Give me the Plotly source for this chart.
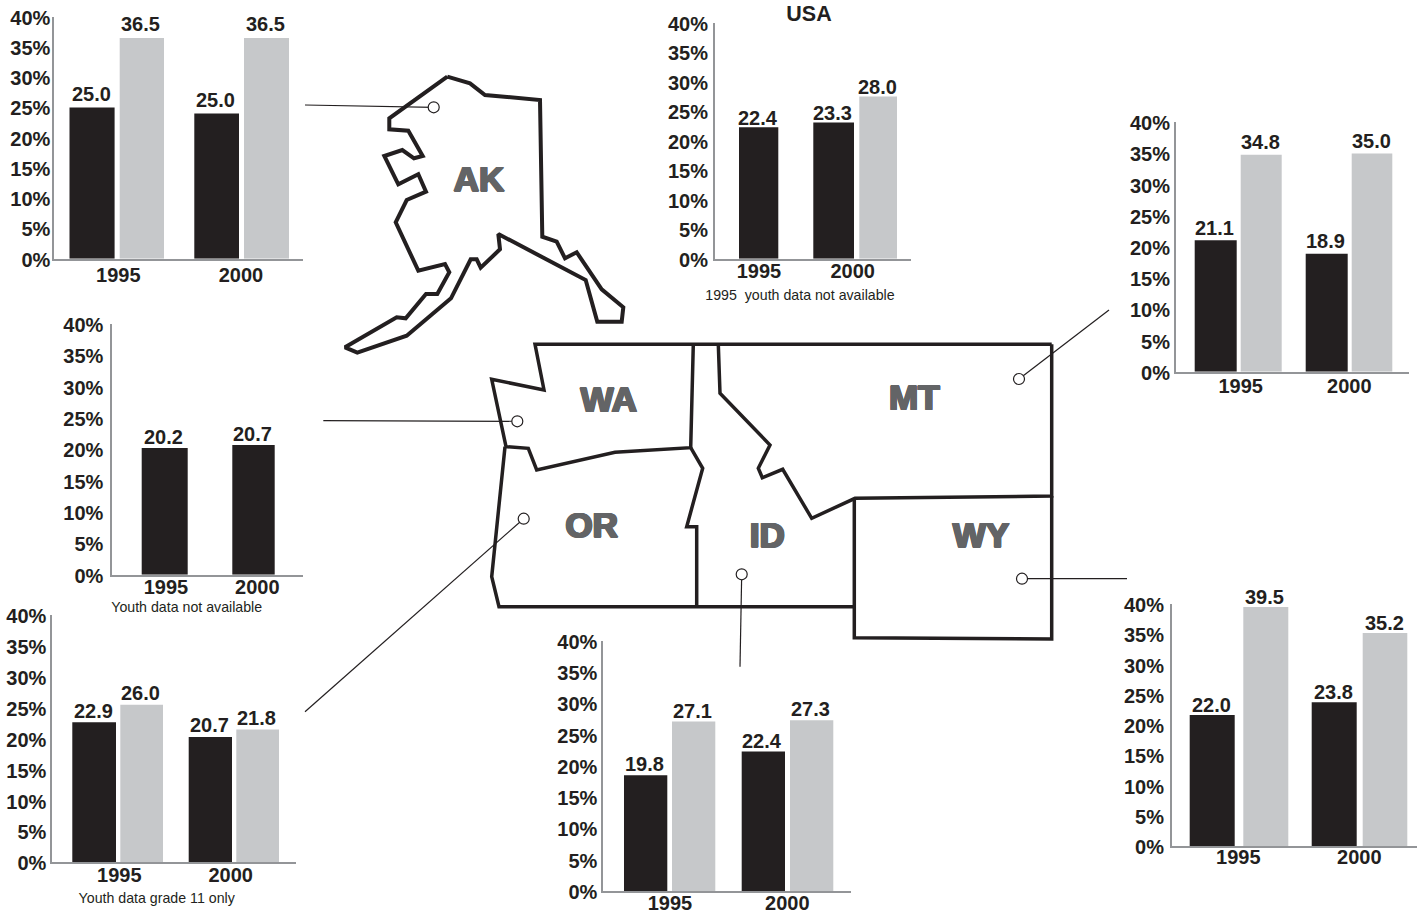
import plotly.graph_objects as go

W, H = 1421, 911
INK = "#231f20"
GRAY = "#c6c8ca"
AXIS = "#939598"
STATE = "#636466"
FONT = "Liberation Sans"

YEARS = ["1995", "2000"]
PCT_VALUES = [0, 5, 10, 15, 20, 25, 30, 35, 40]
PCT_LABELS = ["0%", "5%", "10%", "15%", "20%", "25%", "30%", "35%", "40%"]

AK_ADULT = [25.0, 24.0]
AK_YOUTH = [36.5, 36.5]
AK_ADULT_TEXT = ["25.0", "25.0"]
AK_YOUTH_TEXT = ["36.5", "36.5"]

USA_ADULT = [22.3, 23.1]
USA_YOUTH = [None, 27.5]
USA_ADULT_TEXT = ["22.4", "23.3"]
USA_YOUTH_TEXT = [None, "28.0"]

MT_ADULT = [21.1, 18.9]
MT_YOUTH = [34.8, 35.0]
MT_ADULT_TEXT = ["21.1", "18.9"]
MT_YOUTH_TEXT = ["34.8", "35.0"]

WA_ADULT = [20.2, 20.7]
WA_ADULT_TEXT = ["20.2", "20.7"]

OR_ADULT = [22.7, 20.3]
OR_YOUTH = [25.5, 21.5]
OR_ADULT_TEXT = ["22.9", "20.7"]
OR_YOUTH_TEXT = ["26.0", "21.8"]

ID_ADULT = [18.5, 22.3]
ID_YOUTH = [27.1, 27.3]
ID_ADULT_TEXT = ["19.8", "22.4"]
ID_YOUTH_TEXT = ["27.1", "27.3"]

WY_ADULT = [21.65, 23.75]
WY_YOUTH = [39.5, 35.2]
WY_ADULT_TEXT = ["22.0", "23.8"]
WY_YOUTH_TEXT = ["39.5", "35.2"]

# map outlines (in page pixels)
ALASKA_X = [447.3, 470, 485, 540, 542.3, 556.7, 565, 576.7, 601.7, 623.3, 621.7, 597.3, 585.7, 498.3, 500, 480.7,
            476.7, 470.7, 451, 406.7, 357.3, 345, 396.7, 405.7, 426, 437.3, 449.3, 445, 418.3, 395.7, 406.7, 426,
            418.3, 398.3, 384.3, 402.3, 414, 422.7, 408.3, 389.3, 389.3, 447.3]
ALASKA_Y = [76.7, 83.3, 95, 100, 236.7, 241.7, 258.3, 252.3, 289.3, 307.3, 321.7, 321.7, 280, 234, 249.3, 267.7,
            259.3, 259.3, 298.3, 335.7, 352.7, 347.3, 317.3, 318.3, 294, 294, 272.3, 264, 270.7, 222.3, 200, 191.7,
            174.3, 184.3, 156, 150, 158.3, 156, 130.7, 129.3, 118.3, 76.7]
WA_BORDER_X = [1051.7, 535, 544, 491.7, 506, 528.3, 536.7, 615, 690.7, 693.3]
WA_BORDER_Y = [344.3, 344.3, 390, 379.3, 446.7, 448.3, 470, 452.3, 447.7, 344.3]
OR_BORDER_X = [505, 491.7, 499, 855]
OR_BORDER_Y = [446.7, 576.7, 606.7, 606.7]
OR_ID_BORDER_X = [690.7, 702.7, 686.7, 696.7, 696.7]
OR_ID_BORDER_Y = [447.7, 468.3, 526.7, 526.7, 606.7]
MT_BORDER_X = [718.3, 720, 770, 758.3, 762.3, 782.7, 811.7, 855, 1051.7, 1051.7]
MT_BORDER_Y = [344.3, 393.3, 445, 468.3, 477.7, 469.3, 518.3, 498.3, 496, 344.3]
WY_BORDER_X = [1051.7, 1051.7, 854.3, 854.3]
WY_BORDER_Y = [496, 639, 637.7, 498.3]
OUTLINES = [(ALASKA_X, ALASKA_Y, 4), (WA_BORDER_X, WA_BORDER_Y, 3.5), (OR_BORDER_X, OR_BORDER_Y, 3.5),
            (OR_ID_BORDER_X, OR_ID_BORDER_Y, 3.5), (MT_BORDER_X, MT_BORDER_Y, 3.5), (WY_BORDER_X, WY_BORDER_Y, 3.5)]

STATE_NAMES = ["AK", "WA", "OR", "ID", "MT", "WY"]
STATE_X = [479, 608.7, 591.7, 767.3, 914.3, 981]
STATE_Y = [182.7, 403, 528.7, 538.7, 401, 538.7]

# leader lines: (far end, circle)
LEADERS = [((305, 105), (433.7, 107.3)), ((323.3, 420.7), (517.3, 421.3)), ((305, 711.7), (523.7, 518.7)),
           ((740, 666.7), (741.7, 574.3)), ((1109, 310), (1019, 379)), ((1127, 578.7), (1022, 578.7))]

# panel layout, in page pixels. ticks = centres of the year labels; offsets/widths are relative to them.
PANELS = [
    dict(left=54.3, right=303.3, top=16.7, bottom=258.7, ticks=(118.3, 241), y_gap=-2, x_gap=-3, dy=13.5,
         adult=AK_ADULT, adult_text=AK_ADULT_TEXT, youth=AK_YOUTH, youth_text=AK_YOUTH_TEXT,
         a_off=[-48.8, -46.7], a_w=[45.1, 44.7], y_off=[1.4, 3], y_w=[44.3, 45]),
    dict(left=715, right=910.7, top=22.7, bottom=258.7, ticks=(759, 852.7), y_gap=1, x_gap=-7, dy=9.5,
         adult=USA_ADULT, adult_text=USA_ADULT_TEXT, youth=USA_YOUTH, youth_text=USA_YOUTH_TEXT,
         a_off=[-20, -39.4], a_w=[39.3, 40.7], y_off=[6.6, 6.6], y_w=[37.7, 37.7]),
    dict(left=1176, right=1409.3, top=122.3, bottom=371.7, ticks=(1240.7, 1349.3), y_gap=0, x_gap=-5, dy=12.5,
         adult=MT_ADULT, adult_text=MT_ADULT_TEXT, youth=MT_YOUTH, youth_text=MT_YOUTH_TEXT,
         a_off=[-46, -43.6], a_w=[42, 42], y_off=[0, 2.4], y_w=[41, 40.6]),
    dict(left=112.3, right=302.7, top=324, bottom=574.7, ticks=(166, 257.3), y_gap=3, x_gap=-7, dy=11,
         adult=WA_ADULT, adult_text=WA_ADULT_TEXT, youth=None, youth_text=None,
         a_off=[-24.3, -25], a_w=[46, 42.4], y_off=None, y_w=None),
    dict(left=52.3, right=295.7, top=615.3, bottom=862.3, ticks=(119.3, 230.7), y_gap=0, x_gap=-6, dy=11.5,
         adult=OR_ADULT, adult_text=OR_ADULT_TEXT, youth=OR_YOUTH, youth_text=OR_YOUTH_TEXT,
         a_off=[-47, -42], a_w=[43.7, 43.3], y_off=[1, 5.6], y_w=[42.7, 42.7]),
    dict(left=603.3, right=850.7, top=640.7, bottom=891, ticks=(670, 787.3), y_gap=0, x_gap=-7, dy=10.8,
         adult=ID_ADULT, adult_text=ID_ADULT_TEXT, youth=ID_YOUTH, youth_text=ID_YOUTH_TEXT,
         a_off=[-46, -45.6], a_w=[43.3, 43.3], y_off=[2, 2.7], y_w=[43.3, 43.3]),
    dict(left=1172, right=1417, top=604, bottom=846, ticks=(1238.3, 1359.3), y_gap=2, x_gap=-8, dy=10.5,
         adult=WY_ADULT, adult_text=WY_ADULT_TEXT, youth=WY_YOUTH, youth_text=WY_YOUTH_TEXT,
         a_off=[-48.6, -47.6], a_w=[45, 45], y_off=[5, 3.4], y_w=[45, 44.6]),
]

NOTES = [("1995\u00a0\u00a0youth data not available", 800, 296),
         ("Youth data not available", 186.7, 608),
         ("Youth data grade 11 only", 156.7, 899.6)]

fig = go.Figure()
layout = {}
annotations = []
text_font = dict(family=FONT, size=20, color=INK, weight="bold")

for i, p in enumerate(PANELS, start=1):
    sfx = "" if i == 1 else str(i)
    c1, c2 = p["ticks"]
    unit = c2 - c1
    layout["xaxis" + sfx] = dict(
        domain=[p["left"] / W, p["right"] / W], anchor="y" + sfx, type="category",
        categoryorder="array", categoryarray=YEARS, automargin=False,
        range=[(p["left"] - c1) / unit, 1 + (p["right"] - c2) / unit],
        showgrid=False, zeroline=False, showline=True, linecolor=AXIS, linewidth=2,
        ticks="", tickfont=text_font, ticklabelstandoff=p["x_gap"], fixedrange=True,
    )
    layout["yaxis" + sfx] = dict(
        domain=[(H - p["bottom"]) / H, (H - p["top"]) / H], anchor="x" + sfx, range=[0, 40], automargin=False,
        showgrid=False, zeroline=False, showline=True, linecolor=AXIS, linewidth=2,
        ticks="", tickmode="array", tickvals=PCT_VALUES, ticktext=PCT_LABELS,
        tickfont=text_font, ticklabelstandoff=p["y_gap"], ticklabelshift=1, fixedrange=True,
    )
    series = [(p["adult"], p["adult_text"], p["a_off"], p["a_w"], INK)]
    if p["youth"] is not None:
        series.append((p["youth"], p["youth_text"], p["y_off"], p["y_w"], GRAY))
    for vals, txt, off, wid, col in series:
        fig.add_trace(go.Bar(
            x=YEARS, y=vals, cliponaxis=False, marker=dict(color=col, line=dict(width=0)),
            offset=[o / unit for o in off], width=[w / unit for w in wid],
            xaxis="x" + sfx, yaxis="y" + sfx, showlegend=False, hoverinfo="skip",
        ))
        for k, (v, t) in enumerate(zip(vals, txt)):
            if v is None:
                continue
            annotations.append(dict(
                xref="x" + sfx, yref="y" + sfx, x=k + (off[k] + wid[k] / 2 - 1) / unit, y=v, text=t,
                showarrow=False, xanchor="center", yanchor="middle", yshift=p["dy"], font=text_font,
            ))

# full-page overlay for the map
n = len(PANELS) + 1
layout[f"xaxis{n}"] = dict(domain=[0, 1], range=[0, W], visible=False, fixedrange=True, anchor=f"y{n}")
layout[f"yaxis{n}"] = dict(domain=[0, 1], range=[H, 0], visible=False, fixedrange=True, anchor=f"x{n}")
ov = dict(xaxis=f"x{n}", yaxis=f"y{n}", showlegend=False, hoverinfo="skip")

for xs, ys, w in OUTLINES:
    fig.add_trace(go.Scatter(x=xs, y=ys, mode="lines", line=dict(color=INK, width=w, shape="linear"), **ov))
for far, near in LEADERS:
    fig.add_trace(go.Scatter(x=[far[0], near[0]], y=[far[1], near[1]], mode="lines",
                             line=dict(color=INK, width=1.2), **ov))
fig.add_trace(go.Scatter(x=[l[1][0] for l in LEADERS], y=[l[1][1] for l in LEADERS], mode="markers",
                         marker=dict(size=11, color="white", line=dict(color=INK, width=1.2)), **ov))
shadow = ", ".join(f"{dx}px {dy}px 0 {STATE}" for dx, dy in
                   [(1.1, 0), (-1.1, 0), (0, 0.7), (0, -0.7), (0.8, 0.5), (-0.8, 0.5), (0.8, -0.5), (-0.8, -0.5)])
fig.add_trace(go.Scatter(x=STATE_X, y=STATE_Y, mode="text", text=STATE_NAMES, textposition="middle center",
                         textfont=dict(family=FONT, size=35, color=STATE, weight="bold", shadow=shadow), **ov))
fig.add_trace(go.Scatter(x=[n_[1] for n_ in NOTES], y=[n_[2] for n_ in NOTES], mode="text",
                         text=[n_[0] for n_ in NOTES], textposition="middle center",
                         textfont=dict(family=FONT, size=14.2, color=INK), **ov))
fig.add_trace(go.Scatter(x=[809], y=[16], mode="text", text=["USA"], textposition="middle center",
                         textfont=dict(family=FONT, size=21.5, color=INK, weight="bold"), **ov))

fig.update_layout(width=W, height=H, margin=dict(l=0, r=0, t=0, b=0, autoexpand=False), autosize=False,
                  paper_bgcolor="white", plot_bgcolor="rgba(0,0,0,0)", barmode="overlay",
                  annotations=annotations, **layout)

fig.write_html("out.html", config=dict(displayModeBar=False),
               post_script="document.body.style.margin='0';document.body.style.overflow='hidden';")
